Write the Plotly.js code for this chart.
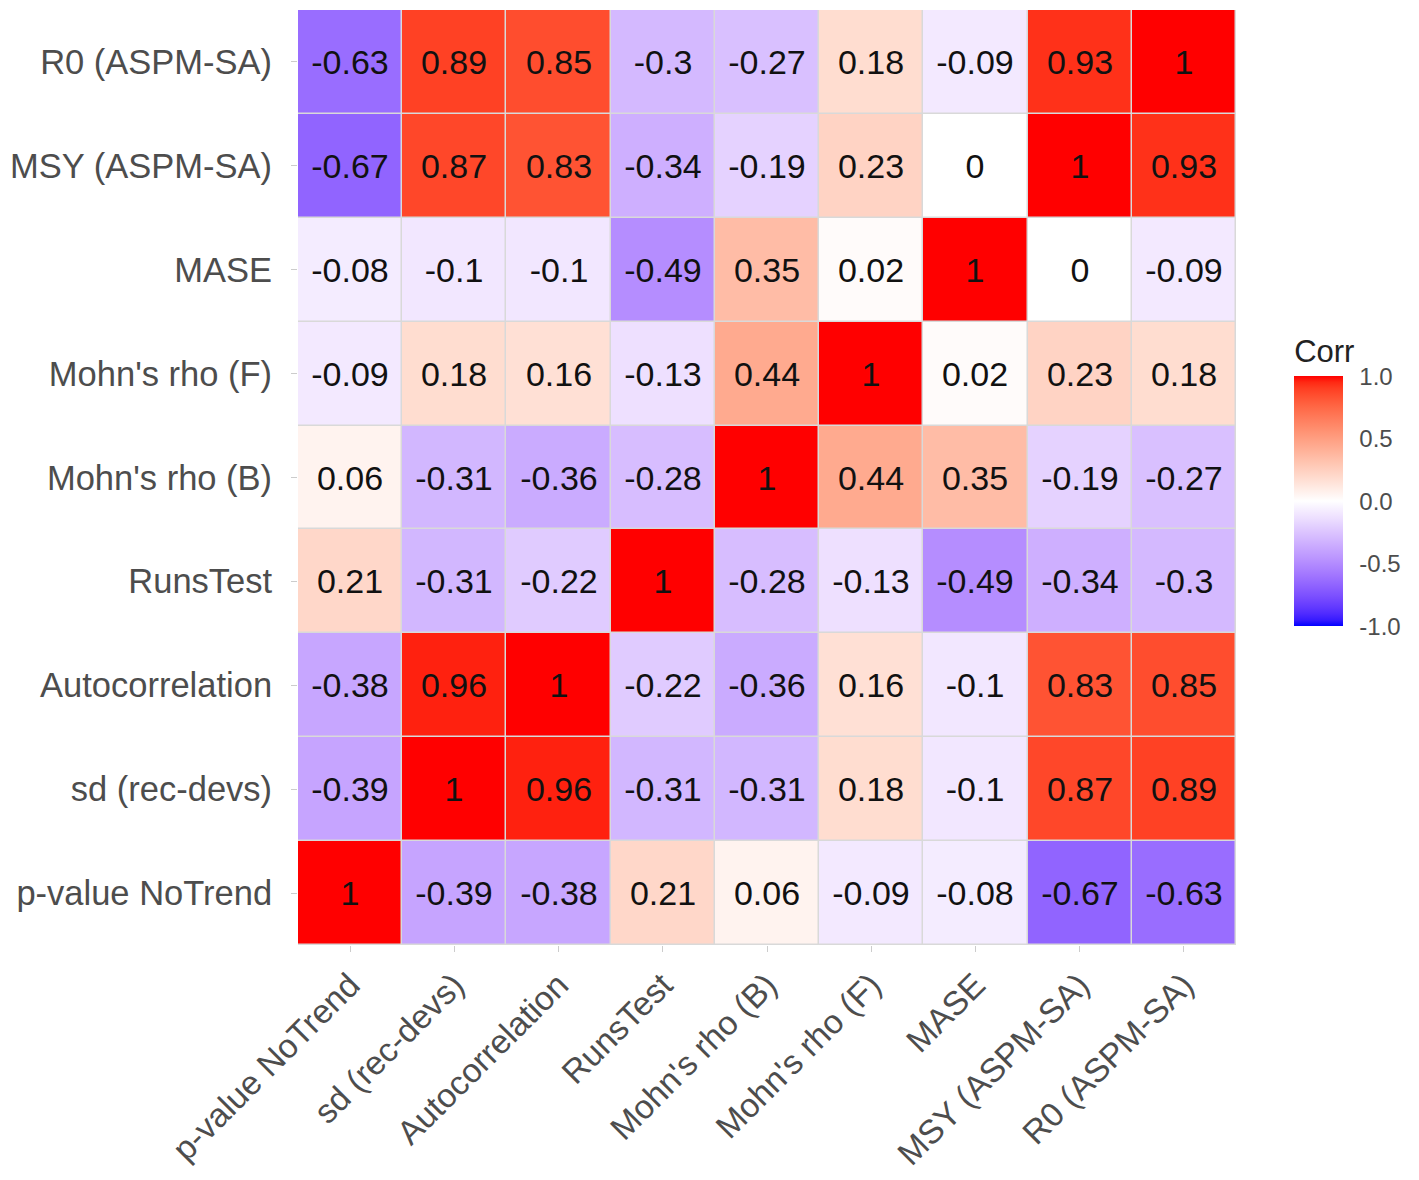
<!DOCTYPE html>
<html>
<head>
<meta charset="utf-8">
<script src="https://cdn.plot.ly/plotly-3.0.1.min.js"></script>
<style>html,body{margin:0;padding:0;background:#fff;}#chart{width:1419px;height:1180px;}</style>
</head>
<body>
<div id="chart"></div>
<script>
// Column (x) order, left to right
const xLabels = ["p-value NoTrend", "sd (rec-devs)", "Autocorrelation", "RunsTest", "Mohn's rho (B)", "Mohn's rho (F)", "MASE", "MSY (ASPM-SA)", "R0 (ASPM-SA)"];
// Row (y) order, bottom to top
const yLabels = ["p-value NoTrend", "sd (rec-devs)", "Autocorrelation", "RunsTest", "Mohn's rho (B)", "Mohn's rho (F)", "MASE", "MSY (ASPM-SA)", "R0 (ASPM-SA)"];

// Correlation rows (bottom to top), columns in xLabels order
const rowPValue   = [1, -0.39, -0.38, 0.21, 0.06, -0.09, -0.08, -0.67, -0.63];
const rowSd       = [-0.39, 1, 0.96, -0.31, -0.31, 0.18, -0.1, 0.87, 0.89];
const rowAuto     = [-0.38, 0.96, 1, -0.22, -0.36, 0.16, -0.1, 0.83, 0.85];
const rowRuns     = [0.21, -0.31, -0.22, 1, -0.28, -0.13, -0.49, -0.34, -0.3];
const rowMohnB    = [0.06, -0.31, -0.36, -0.28, 1, 0.44, 0.35, -0.19, -0.27];
const rowMohnF    = [-0.09, 0.18, 0.16, -0.13, 0.44, 1, 0.02, 0.23, 0.18];
const rowMASE     = [-0.08, -0.1, -0.1, -0.49, 0.35, 0.02, 1, 0, -0.09];
const rowMSY      = [-0.67, 0.87, 0.83, -0.34, -0.19, 0.23, 0, 1, 0.93];
const rowR0       = [-0.63, 0.89, 0.85, -0.3, -0.27, 0.18, -0.09, 0.93, 1];

const zRows = [rowPValue, rowSd, rowAuto, rowRuns, rowMohnB, rowMohnF, rowMASE, rowMSY, rowR0];
const textRows = zRows.map(r => r.map(v => String(v)));

// --- Lab colour interpolation (like ggplot2 gradient2) ---
function hexToRgb(h){h=h.replace('#','');return [parseInt(h.substr(0,2),16),parseInt(h.substr(2,2),16),parseInt(h.substr(4,2),16)];}
function srgbToLin(c){c/=255;return c<=0.04045?c/12.92:Math.pow((c+0.055)/1.055,2.4);}
function linToSrgb(c){c=c<=0.0031308?12.92*c:1.055*Math.pow(c,1/2.4)-0.055;return Math.max(0,Math.min(255,Math.round(c*255)));}
const Xn=0.95047,Yn=1.0,Zn=1.08883;
function f(t){return t>Math.pow(6/29,3)?Math.cbrt(t):t/(3*Math.pow(6/29,2))+4/29;}
function finv(t){return t>6/29?t*t*t:3*Math.pow(6/29,2)*(t-4/29);}
function rgbToLab(rgb){
  const r=srgbToLin(rgb[0]),g=srgbToLin(rgb[1]),b=srgbToLin(rgb[2]);
  const X=0.4124*r+0.3576*g+0.1805*b, Y=0.2126*r+0.7152*g+0.0722*b, Z=0.0193*r+0.1192*g+0.9505*b;
  const fx=f(X/Xn),fy=f(Y/Yn),fz=f(Z/Zn);
  return [116*fy-16,500*(fx-fy),200*(fy-fz)];
}
function labToHex(lab){
  const fy=(lab[0]+16)/116, fx=fy+lab[1]/500, fz=fy-lab[2]/200;
  const X=Xn*finv(fx),Y=Yn*finv(fy),Z=Zn*finv(fz);
  const r=3.2406*X-1.5372*Y-0.4986*Z, g=-0.9689*X+1.8758*Y+0.0415*Z, b=0.0557*X-0.2040*Y+1.0570*Z;
  return 'rgb('+linToSrgb(r)+','+linToSrgb(g)+','+linToSrgb(b)+')';
}
const lowLab=rgbToLab(hexToRgb('#0000FF')), midLab=rgbToLab(hexToRgb('#FFFFFF')), highLab=rgbToLab(hexToRgb('#FF0000'));
const colorscale=[];
const N=40;
for(let i=0;i<=N;i++){
  const t=i/N; let a,b,u;
  if(t<=0.5){a=lowLab;b=midLab;u=t/0.5;} else {a=midLab;b=highLab;u=(t-0.5)/0.5;}
  colorscale.push([t, labToHex([a[0]+(b[0]-a[0])*u,a[1]+(b[1]-a[1])*u,a[2]+(b[2]-a[2])*u])]);
}

const trace = {
  type: 'heatmap',
  x: xLabels,
  y: yLabels,
  z: zRows,
  text: textRows,
  texttemplate: '%{text}',
  textfont: {family: 'Liberation Sans, Arial, sans-serif', size: 34, color: '#111111'},
  zmin: -1, zmax: 1,
  colorscale: colorscale,
  xgap: 1.5, ygap: 1.5,
  hoverongaps: false,
  colorbar: {
    title: {text: 'Corr', side: 'top', font: {family: 'Liberation Sans, Arial, sans-serif', size: 31, color: '#222'}},
    thickness: 49,
    thicknessmode: 'pixels',
    len: 290,
    lenmode: 'pixels',
    x: 1.062, xanchor: 'left', xpad: 0,
    y: 0.341, yanchor: 'bottom', ypad: 0,
    outlinewidth: 0,
    tickvals: [-1, -0.5, 0, 0.5, 1],
    ticktext: ['-1.0', '-0.5', '0.0', '0.5', '1.0'],
    ticks: 'outside', ticklen: 12, tickcolor: '#ffffff', tickwidth: 1,
    tickfont: {family: 'Liberation Sans, Arial, sans-serif', size: 24, color: '#4D4D4D'}
  }
};

const layout = {
  width: 1419, height: 1180,
  margin: {l: 298, r: 183, t: 10, b: 235},
  paper_bgcolor: '#ffffff',
  plot_bgcolor: '#d9d9d9',
  font: {family: 'Liberation Sans, Arial, sans-serif'},
  xaxis: {
    type: 'category', tickangle: -45,
    tickfont: {size: 33.5, color: '#4D4D4D'},
    ticks: 'outside', ticklen: 6, tickcolor: '#cccccc',
    showgrid: false, zeroline: false, showline: false
  },
  yaxis: {
    type: 'category',
    tickfont: {size: 34.5, color: '#4D4D4D'},
    ticks: 'outside', ticklen: 6, tickcolor: '#cccccc',
    ticklabelstandoff: 12,
    showgrid: false, zeroline: false, showline: false
  }
};

Plotly.newPlot('chart', [trace], layout, {displayModeBar: false, staticPlot: true});
</script>
</body>
</html>
